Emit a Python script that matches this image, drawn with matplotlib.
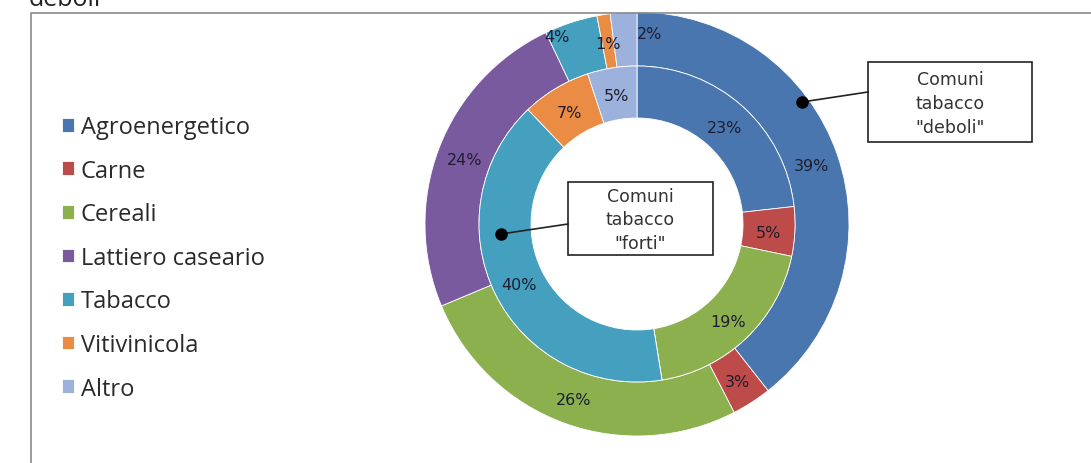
import matplotlib
matplotlib.use("Agg")
import matplotlib.pyplot as plt
from matplotlib.patches import Rectangle
import numpy as np

# dati
categorie = ["Agroenergetico", "Carne", "Cereali", "Lattiero caseario",
             "Tabacco", "Vitivinicola", "Altro"]
deboli = [39, 3, 26, 24, 4, 1, 2]   # anello esterno
forti = [23, 5, 19, 0, 40, 7, 5]    # anello interno
colori = ["#4A76AF", "#BD4B4A", "#8DB04F", "#7A5A9E", "#44A0BE", "#EA8C43", "#9CB1DC"]

W, H = 1091, 464
fig = plt.figure(figsize=(W / 100, H / 100), dpi=100)

# overlay in pixel coords for frame and callouts
ov = fig.add_axes([0, 0, 1, 1])
ov.set_xlim(0, W)
ov.set_ylim(H, 0)
ov.axis("off")
ov.plot([31, 31, W], [H, 14, 14], color="#8a8a8a", lw=1.2)
fig.text(29 / W, 1 - 6 / H, "deboli", fontsize=18, family="Open Sans",
         va="baseline", color="#222222")

# donut
cx, cy, R = 637, 225, 212
ax = fig.add_axes([(cx - R) / W, (H - cy - R) / H, 2 * R / W, 2 * R / H])

w_out, _ = ax.pie(deboli, colors=colori, radius=1.0, startangle=90, counterclock=False,
                  wedgeprops=dict(width=54 / R, edgecolor="white", linewidth=0.6))
w_in, _ = ax.pie(forti, colors=colori, radius=158 / R, startangle=90, counterclock=False,
                 wedgeprops=dict(width=52 / R, edgecolor="white", linewidth=0.6))
ax.set_xlim(-1, 1)
ax.set_ylim(-1, 1)
ax.axis("off")

# small label nudges (pixels) for the crowded top slices of the outer ring
nudge_out = {4: (-22, 14), 6: (24, 8)}

for k, (wedges, vals) in enumerate(((w_out, deboli), (w_in, forti))):
    for i, (w, v) in enumerate(zip(wedges, vals)):
        if v == 0:
            continue
        ang = np.deg2rad((w.theta1 + w.theta2) / 2)
        r = w.r - w.width / 2
        dx, dy = nudge_out.get(i, (0, 0)) if k == 0 else (0, 0)
        ax.text(r * np.cos(ang) + dx / R, r * np.sin(ang) + dy / R - 2 / R, f"{v}%",
                ha="center", va="center", fontsize=11.5, color="#1e1e30")

# callouts
def callout(dot, box, yend, lines):
    x0, y0, x1, y1 = box
    ov.add_patch(Rectangle((x0, y0), x1 - x0, y1 - y0, facecolor="white",
                           edgecolor="#222222", lw=1.2, zorder=3))
    ov.plot([dot[0], x0], [dot[1], yend], color="#222222", lw=1.2, zorder=4)
    ov.plot(dot[0], dot[1], "o", color="black", ms=8, zorder=5)
    ov.text((x0 + x1) / 2, (y0 + y1) / 2 + 1, lines, ha="center", va="center",
            fontsize=12.5, linespacing=1.4, color="#333333", zorder=6)

ov.set_zorder(ax.get_zorder() + 1)
callout((802, 103), (868, 63, 1032, 143), 93, 'Comuni\ntabacco\n"deboli"')
callout((501, 235), (568, 183, 713, 256), 225, 'Comuni\ntabacco\n"forti"')

fig.legend(w_out, categorie, loc="upper left", bbox_to_anchor=(62 / W, 1 - 116 / H),
           frameon=False, prop=dict(family="Open Sans", size=17),
           borderpad=0, borderaxespad=0,
           handlelength=0.52, handleheight=0.52, handletextpad=0.28, labelspacing=0.83,
           labelcolor="#2a2a2a")

fig.savefig("out.png", dpi=100, facecolor="white")
